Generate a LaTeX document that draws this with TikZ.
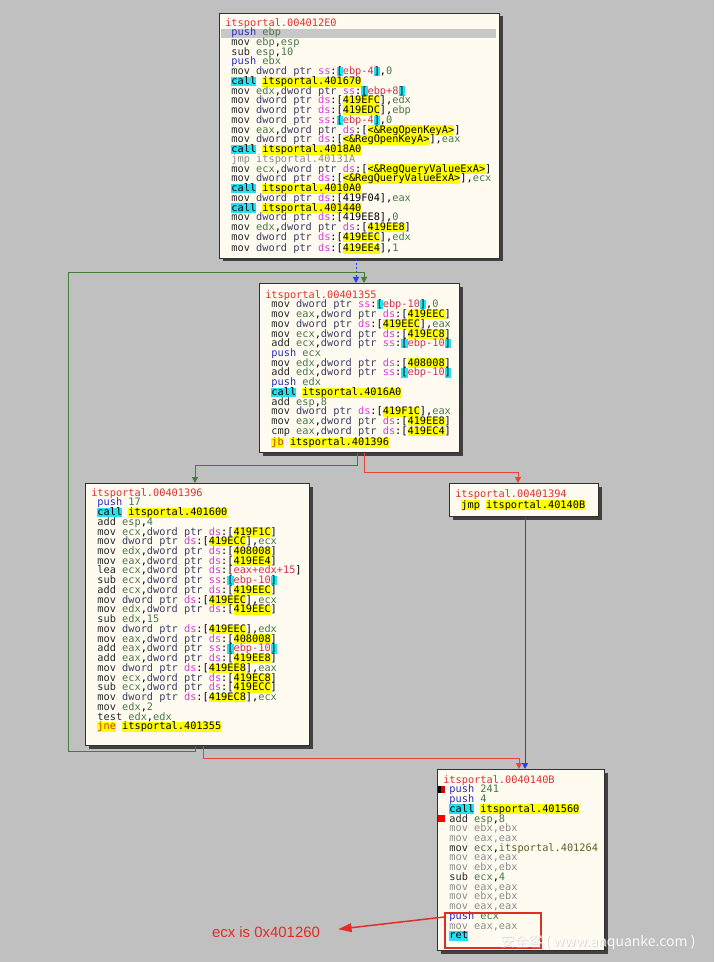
\documentclass[tikz,border=0pt]{standalone}
\usepackage{fontspec}
\setmainfont{Liberation Sans}
\newfontfamily\monofont{DejaVu Sans Mono}
\newfontfamily\cjkfont{Noto Sans CJK SC}
\usetikzlibrary{arrows.meta,shadows,calc}
\definecolor{bgc}{RGB}{192,192,192}
\definecolor{blkfill}{RGB}{255,251,240}
\definecolor{ctitle}{RGB}{224,48,48}
\definecolor{cmn}{RGB}{40,40,40}
\definecolor{cpush}{RGB}{40,40,200}
\definecolor{creg}{RGB}{70,120,70}
\definecolor{cptr}{RGB}{60,60,100}
\definecolor{cseg}{RGB}{220,60,220}
\definecolor{cstk}{RGB}{210,50,80}
\definecolor{hly}{RGB}{255,255,0}
\definecolor{hlc}{RGB}{40,225,240}
\definecolor{cgray}{RGB}{140,140,140}
\definecolor{cjcc}{RGB}{200,60,0}
\definecolor{lgreen}{RGB}{70,125,60}
\definecolor{lred}{RGB}{230,70,55}
\definecolor{lblue}{RGB}{40,60,255}
\definecolor{annred}{RGB}{225,45,35}
\definecolor{selbar}{RGB}{200,200,200}
\definecolor{caddr}{RGB}{90,100,40}
\newcommand\hlbox[2]{{\fboxsep=0pt\colorbox{#1}{\vrule height 5.9pt depth 1.3pt width 0pt\relax #2}}}
\newcommand\hy[1]{\hlbox{hly}{#1}}
\newcommand\hc[1]{\hlbox{hlc}{#1}}
\newcommand\rg[1]{\textcolor{creg}{#1}}
\newcommand\mn[1]{\textcolor{cmn}{#1}}
\newcommand\pu[1]{\textcolor{cpush}{push} \rg{#1}}
\newcommand\dwp{\textcolor{cptr}{dword ptr}\space}
\newcommand\sseg{\textcolor{cseg}{ss}:}
\newcommand\dseg{\textcolor{cseg}{ds}:}
\newcommand\stk[1]{\sseg\hc{[}\textcolor{cstk}{#1}\hc{]}}
\newcommand\dsy[1]{\dseg[\hy{#1}]}
\newcommand\dsn[1]{\dseg[#1]}
\newcommand\ind{\hspace*{4.64pt}}
\newcommand\callto[1]{\hc{call} \hy{itsportal.#1}}
\newcommand\ttl[1]{\lineskiplimit=-20pt\relax\lineskip=0pt\relax\spaceskip=4.64pt\relax\xspaceskip=4.64pt\relax\vrule height 6pt depth 0pt width 0pt\relax\textcolor{ctitle}{itsportal.#1}}
\newcommand\gr[1]{\textcolor{cgray}{#1}}
\newcommand\codefont{\monofont\fontsize{7.71pt}{7.31pt}\selectfont}
\begin{document}
\begin{tikzpicture}[x=0.75pt,y=-0.75pt,
  blk/.style={draw={rgb,255:red,48;green,48;blue,48}, line width=0.75pt, fill=blkfill, anchor=north west, inner sep=0pt,
    drop shadow={shadow xshift=2.25pt,shadow yshift=-2.25pt,fill=black!75,opacity=1}},
  code/.style={anchor=north west, inner sep=0pt, align=left, text width=300pt, font=\codefont},
  tip/.style={-{Triangle[width=4.5pt,length=4.5pt]}},
  gline/.style={draw=lgreen, line width=0.75pt, tip},
  rline/.style={draw=lred, line width=0.75pt, tip},
  bline/.style={draw=lblue, line width=0.75pt, tip},
  note/.style={text=annred, font=\fontsize{11.2pt}{13pt}\selectfont, inner sep=0pt},
  wm/.style={font=\cjkfont\fontsize{10.5pt}{12pt}\selectfont, inner sep=0pt}
]
\fill[bgc] (0,0) rectangle (714,962);
\useasboundingbox (0,0) rectangle (714,962);

% frames
\node[blk, minimum width=210pt, minimum height=183.75pt] (b1) at (219,13) {};
\node[blk, minimum width=150pt, minimum height=126.75pt] (b2) at (259,283) {};
\node[blk, minimum width=168pt, minimum height=196.5pt] (b3) at (85,483) {};
\node[blk, minimum width=111.75pt, minimum height=24.75pt] (b4) at (449,483) {};
\node[blk, minimum width=125.25pt, minimum height=135.75pt] (b5) at (437,769) {};

% selection bar
\fill[selbar] (221,29) rectangle (496,38);

% breakpoint markers
\fill[black] (438,785.5) rectangle (441,792.5);
\fill[red!85!black] (441,785.5) rectangle (445,792.5);
\fill[red] (438,814.5) rectangle (445,821.5);

% block texts
\node[code] (t1) at (225,17.75) {\ttl{004012E0}\\
\ind\pu{ebp}\\
\ind\mn{mov} \rg{ebp},\rg{esp}\\
\ind\mn{sub} \rg{esp},\rg{10}\\
\ind\pu{ebx}\\
\ind\mn{mov} \dwp\stk{ebp-4},\rg{0}\\
\ind\callto{401670}\\
\ind\mn{mov} \rg{edx},\dwp\stk{ebp+8}\\
\ind\mn{mov} \dwp\dsy{419EFC},\rg{edx}\\
\ind\mn{mov} \dwp\dsy{419EDC},\rg{ebp}\\
\ind\mn{mov} \dwp\stk{ebp-4},\rg{0}\\
\ind\mn{mov} \rg{eax},\dwp\dsy{<\&RegOpenKeyA>}\\
\ind\mn{mov} \dwp\dsy{<\&RegOpenKeyA>},\rg{eax}\\
\ind\callto{4018A0}\\
\ind\gr{jmp itsportal.40131A}\\
\ind\mn{mov} \rg{ecx},\dwp\dsy{<\&RegQueryValueExA>}\\
\ind\mn{mov} \dwp\dsy{<\&RegQueryValueExA>},\rg{ecx}\\
\ind\callto{4010A0}\\
\ind\mn{mov} \dwp\dsn{419F04},\rg{eax}\\
\ind\callto{401440}\\
\ind\mn{mov} \dwp\dsn{419EE8},\rg{0}\\
\ind\mn{mov} \rg{edx},\dwp\dsy{419EE8}\\
\ind\mn{mov} \dwp\dsy{419EEC},\rg{edx}\\
\ind\mn{mov} \dwp\dsy{419EE4},\rg{1}};

\node[code] (t2) at (265,289.75) {\ttl{00401355}\\
\ind\mn{mov} \dwp\stk{ebp-10},\rg{0}\\
\ind\mn{mov} \rg{eax},\dwp\dsy{419EEC}\\
\ind\mn{mov} \dwp\dsy{419EEC},\rg{eax}\\
\ind\mn{mov} \rg{ecx},\dwp\dsy{419EC8}\\
\ind\mn{add} \rg{ecx},\dwp\stk{ebp-10}\\
\ind\pu{ecx}\\
\ind\mn{mov} \rg{edx},\dwp\dsy{408008}\\
\ind\mn{add} \rg{edx},\dwp\stk{ebp-10}\\
\ind\pu{edx}\\
\ind\callto{4016A0}\\
\ind\mn{add} \rg{esp},\rg{8}\\
\ind\mn{mov} \dwp\dsy{419F1C},\rg{eax}\\
\ind\mn{mov} \rg{eax},\dwp\dsy{419EE8}\\
\ind\mn{cmp} \rg{eax},\dwp\dsy{419EC4}\\
\ind\hy{\textcolor{cjcc}{jb}} \hy{itsportal.401396}};

\node[code] (t3) at (91,487.75) {\ttl{00401396}\\
\ind\pu{17}\\
\ind\callto{401600}\\
\ind\mn{add} \rg{esp},\rg{4}\\
\ind\mn{mov} \rg{ecx},\dwp\dsy{419F1C}\\
\ind\mn{mov} \dwp\dsy{419ECC},\rg{ecx}\\
\ind\mn{mov} \rg{edx},\dwp\dsy{408008}\\
\ind\mn{mov} \rg{eax},\dwp\dsy{419EE4}\\
\ind\mn{lea} \rg{ecx},\dwp\dseg[\textcolor{cstk}{eax+edx+15}]\\
\ind\mn{sub} \rg{ecx},\dwp\stk{ebp-10}\\
\ind\mn{add} \rg{ecx},\dwp\dsy{419EEC}\\
\ind\mn{mov} \dwp\dsy{419EEC},\rg{ecx}\\
\ind\mn{mov} \rg{edx},\dwp\dsy{419EEC}\\
\ind\mn{sub} \rg{edx},\rg{15}\\
\ind\mn{mov} \dwp\dsy{419EEC},\rg{edx}\\
\ind\mn{mov} \rg{eax},\dwp\dsy{408008}\\
\ind\mn{add} \rg{eax},\dwp\stk{ebp-10}\\
\ind\mn{add} \rg{eax},\dwp\dsy{419EE8}\\
\ind\mn{mov} \dwp\dsy{419EE8},\rg{eax}\\
\ind\mn{mov} \rg{ecx},\dwp\dsy{419EC8}\\
\ind\mn{sub} \rg{ecx},\dwp\dsy{419ECC}\\
\ind\mn{mov} \dwp\dsy{419EC8},\rg{ecx}\\
\ind\mn{mov} \rg{edx},\rg{2}\\
\ind\mn{test} \rg{edx},\rg{edx}\\
\ind\hy{\textcolor{cjcc}{jne}} \hy{itsportal.401355}};

\node[code] (t4) at (455,488.75) {\ttl{00401394}\\
\ind\hy{jmp} \hy{itsportal.40140B}};

\node[code] (t5) at (443,774.75) {\ttl{0040140B}\\
\ind\pu{241}\\
\ind\pu{4}\\
\ind\callto{401560}\\
\ind\mn{add} \rg{esp},\rg{8}\\
\ind\gr{mov ebx,ebx}\\
\ind\gr{mov eax,eax}\\
\ind\mn{mov} \rg{ecx},\textcolor{caddr}{itsportal.401264}\\
\ind\gr{mov eax,eax}\\
\ind\gr{mov ebx,ebx}\\
\ind\mn{sub} \rg{ecx},\rg{4}\\
\ind\gr{mov eax,eax}\\
\ind\gr{mov ebx,ebx}\\
\ind\gr{mov eax,eax}\\
\ind\pu{ecx}\\
\ind\gr{mov eax,eax}\\
\ind\hc{ret}};

% waypoints
\coordinate (xa) at (356,0);
\coordinate (g1) at (195,751);
\coordinate (g2) at (68,751);
\coordinate (g3) at (68,273);
\coordinate (g4) at (364,273);
\coordinate (g5) at (357,465);
\coordinate (g6) at (195,465);
\coordinate (r1) at (364,472);
\coordinate (r2) at (518,472);
\coordinate (xb) at (525,0);
\coordinate (r3) at (203,758);
\coordinate (r4) at (519,758);

% connectors
\draw[bline, dash pattern=on 1.5pt off 1.5pt] (b1.south -| xa) -- (b2.north -| xa);
\draw[gline] (b3.south -| g1) -- (g1) -- (g2) -- (g3) -- (g4) -- (b2.north -| g4);
\draw[gline] (b2.south -| g5) -- (g5) -- (g6) -- (b3.north -| g6);
\draw[rline] (b2.south -| r1) -- (r1) -- (r2) -- (b4.north -| r2);
\draw[bline] (b4.south -| xb) -- (b5.north -| xb);
\draw[rline] (b3.south -| r3) -- (r3) -- (r4) -- (b5.north -| r4);

% annotation
\node[draw=annred, line width=1.5pt, anchor=north west, inner sep=0pt, minimum width=72pt, minimum height=26.25pt] (redbox) at (444,912) {};
\node[note] (note) at (266,931.7) {ecx is 0x401260};
\draw[annred, line width=1.1pt, -{Triangle[length=10pt,width=6.5pt]}] ($(redbox.north west)+(0,5)$) -- ($(note.east)+(18,-2.5)$);

% watermark
\node[wm, text=black!25, opacity=0.6] (wmshade) at (598.8,942.8) {安全客 ( www.anquanke.com )};
\node[wm, text=white, opacity=0.9] (wmark) at (598,942) {安全客 ( www.anquanke.com )};
\end{tikzpicture}
\end{document}
